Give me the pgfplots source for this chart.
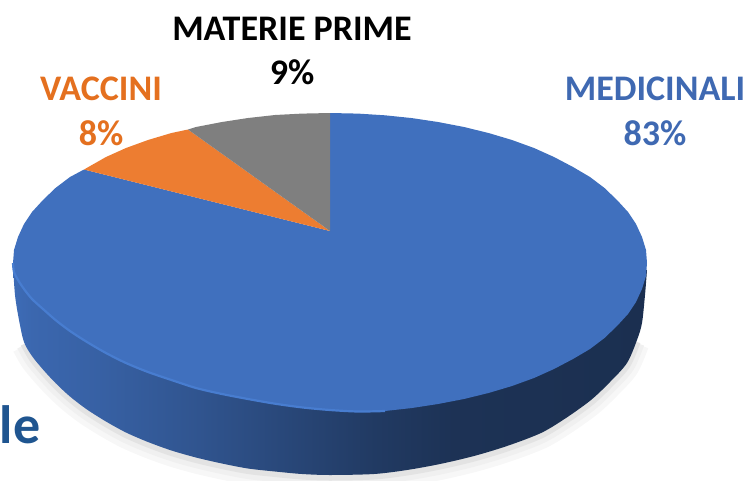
\documentclass[border=0pt]{standalone}
\usepackage{pgfplots}
\pgfplotsset{compat=1.18}
\usepackage{pgfplotstable}
\usepackage{fontspec}
\setmainfont{Carlito}

\definecolor{medblue}{HTML}{4070BE}
\definecolor{rimblue}{HTML}{4C82D8}
\definecolor{vaccorange}{HTML}{ED7D31}
\definecolor{primegray}{HTML}{7F7F7F}
\definecolor{labblue}{HTML}{3F69B2}
\definecolor{laborange}{HTML}{E4701F}
\definecolor{leblue}{HTML}{1F5590}

% side of the disc: dark towards the right
\pgfdeclarehorizontalshading{bandshade}{100bp}{
  color(0bp)=(black!4!medblue);
  color(25bp)=(black!4!medblue);
  color(26.5bp)=(black!8!medblue);
  color(32bp)=(black!14!medblue);
  color(39.75bp)=(black!25!medblue);
  color(47.5bp)=(black!38!medblue);
  color(53.5bp)=(black!48!medblue);
  color(59.5bp)=(black!55!medblue);
  color(75bp)=(black!58!medblue);
  color(100bp)=(black!58!medblue)}

% lower edge of the side of the disc
\pgfplotstableread{
x y
13 265
15 295
19 320
24 342
32 356
43 369.5
55.5 383
70 396.5
87 409.5
106 421.5
126 432.5
148 442
171.5 450.5
196 457.5
222 463.5
248 468.5
275 471.5
302 474
330 475
374 474
407 470
440 464
474 456
507 446
541 433
566 418
591 400
610 382
627 363
637 340
642 323
645 295
647 270
}\bandedge

% lower left edge of the top face
\pgfplotstableread{
x y
13 263
14 272
18 280
24 289
32 299
43 309
55.5 320
70 331
87 342
106 353
126 363
148 372
171.5 380
196 388
222 394
248 399
275 403.7
302 407.4
330 410
358 411.5
385 411
}\rimedge

\begin{document}
\begin{tikzpicture}
\path[use as bounding box, clip] (0,0) rectangle (748pt,480pt);
\begin{axis}[
    at={(0,0)}, anchor=south west,
    scale only axis, width=748pt, height=480pt,
    xmin=0, xmax=748, ymin=0, ymax=480,
    y dir=reverse,
    hide axis,
    clip=false,
    shadow/.style={smooth, skip coords between index={0}{3}, skip coords between index={30}{33}},
  ]
  % soft shadow under the disc
  \addplot[color=black!3, line width=24pt, shadow, yshift=-4pt] table {\bandedge};
  \addplot[color=black!6, line width=15pt, shadow, yshift=-3pt] table {\bandedge};
  \addplot[color=black!11, line width=7pt, shadow, yshift=-2pt] table {\bandedge};

  % side
  \addplot[draw=none, shade, shading=bandshade, smooth] table {\bandedge};

  % MEDICINALI 83%
  \addplot[fill=medblue, draw=none] coordinates {
    (330,231) (330,113) (358,113.6) (385,115.3) (412,118.1) (438,122) (464,127)
    (488.5,133) (512,140) (534,148) (554,157) (573,167) (590,177) (604.5,188)
    (617,200) (628,212) (636,224) (642,237) (646,250) (647,263) (646,276)
    (642,289) (636,302) (628,314) (617,326) (604.5,338) (590,349) (573,359)
    (554,369) (534,378) (512,386) (488.5,393) (464,399) (438,404) (412,408)
    (385,411) (358,411.5) (330,410) (302,407.4) (275,403.7) (248,399) (222,394)
    (196,388) (171.5,380) (148,372) (126,363) (106,353) (87,342) (70,331)
    (55.5,320) (43,309) (32,299) (24,289) (18,280) (14,272) (13,263)
    (14,250) (18,237) (24,224) (32,212) (43,200) (55.5,188) (70,177) (84,169.5)
  } -- cycle;

  % VACCINI 8%
  \addplot[fill=vaccorange, draw=none] coordinates {
    (330,231) (84,169.5) (106,157) (126,148) (148,140) (171.5,133) (188,129.5)
  } -- cycle;

  % MATERIE PRIME 9%
  \addplot[fill=primegray, draw=none] coordinates {
    (330,231) (188,129.5) (196,127) (222,122) (248,118) (275,115) (302,113.6) (330,113)
  } -- cycle;

  % light rim of the top face
  \addplot[color=rimblue!70!medblue, line width=2.2pt, smooth] table {\rimedge};

  \node[text=black, anchor=base, inner sep=0pt, font=\fontsize{36}{40}\selectfont\bfseries]
    at (axis cs:292,40) {MATERIE PRIME};
  \node[text=black, anchor=base, inner sep=0pt, font=\fontsize{36}{40}\selectfont\bfseries]
    at (axis cs:292,84) {9\%};
  \node[text=laborange, anchor=base, inner sep=0pt, font=\fontsize{36}{40}\selectfont\bfseries]
    at (axis cs:101,100) {VACCINI};
  \node[text=laborange, anchor=base, inner sep=0pt, font=\fontsize{36}{40}\selectfont\bfseries]
    at (axis cs:101,145) {8\%};
  \node[text=labblue, anchor=base, inner sep=0pt, font=\fontsize{36}{40}\selectfont\bfseries]
    at (axis cs:655,100) {MEDICINALI};
  \node[text=labblue, anchor=base, inner sep=0pt, font=\fontsize{36}{40}\selectfont\bfseries]
    at (axis cs:655,145) {83\%};
  \node[text=leblue, anchor=base east, inner sep=0pt, font=\fontsize{54}{60}\selectfont\bfseries]
    at (axis cs:40.5,443) {le};
\end{axis}
\end{tikzpicture}
\end{document}
